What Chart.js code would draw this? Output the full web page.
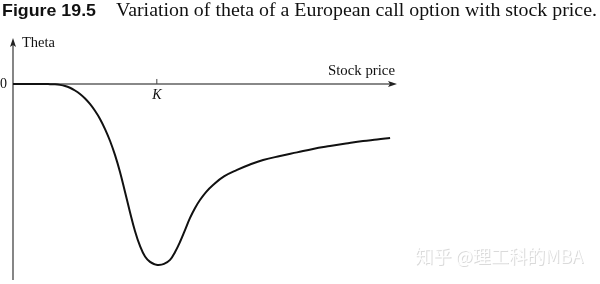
<!DOCTYPE html>
<html>
<head>
<meta charset="utf-8">
<script src="https://cdn.jsdelivr.net/npm/chart.js@4"></script>
<style>
  html, body { margin: 0; padding: 0; background: #fff; }
  #box { width: 600px; height: 284px; }
</style>
</head>
<body>
<div id="box"><canvas id="myChart"></canvas></div>
<script>
// 数据: stock price (K = 100) and theta (scaled so the trough is about -1)
var stockPrice = [0, 11.8, 22.3, 25.7, 29.2, 32.7, 36.2, 39.6, 43.1, 46.6, 50.1, 53.5, 57, 60.5, 64, 67.5, 70.9, 74.4, 77.9, 81.4, 84.8, 88.3, 91.8, 95.3, 98.7, 100.8, 105, 109.2, 112.7, 116.1, 119.6, 123.1, 126.6, 130, 134.2, 139.1, 146.7, 155.8, 164.8, 173.9, 185.7, 197.5, 208.6, 220.4, 231.5, 243.4, 253.1, 262.2];
var theta = [0, 0, 0, -0.001, -0.002, -0.005, -0.011, -0.021, -0.036, -0.055, -0.08, -0.11, -0.148, -0.193, -0.249, -0.315, -0.392, -0.486, -0.597, -0.71, -0.812, -0.895, -0.953, -0.983, -0.997, -1.0, -0.994, -0.972, -0.928, -0.873, -0.807, -0.74, -0.685, -0.641, -0.597, -0.558, -0.511, -0.475, -0.445, -0.42, -0.398, -0.378, -0.359, -0.343, -0.329, -0.315, -0.307, -0.298];
var strikeK = 100;
var tickLabels = ["0", "K"];
var titleBold = "Figure 19.5";
var titleText = "Variation of theta of a European call option with stock price.";
var yLabel = "Theta";
var xLabel = "Stock price";
var watermark = "知乎 @理工科的MBA";

var points = [];
for (var i = 0; i < stockPrice.length; i++) {
    points.push({x: stockPrice[i], y: theta[i]});
}

// 文字拉伸到指定宽度
function fitText(c, text, x, y, width) {
    var w = c.measureText(text).width;
    c.save();
    c.translate(x, y);
    c.scale(width / w, 1);
    c.fillText(text, 0, 0);
    c.restore();
}

// 坐标轴, 箭头, 文字
var axesPlugin = {
    id: 'axesPlugin',
    beforeDatasetsDraw: function (chart) {
        var c = chart.ctx;
        var xs = chart.scales.x, ys = chart.scales.y;
        var x0 = xs.getPixelForValue(0);
        var y0 = ys.getPixelForValue(0);
        var xEnd = xs.right;
        var yTop = ys.top;
        var yBot = ys.bottom;
        c.save();
        // y axis
        c.strokeStyle = '#444';
        c.lineWidth = 1.3;
        c.beginPath();
        c.moveTo(x0, yBot);
        c.lineTo(x0, yTop + 4);
        c.stroke();
        c.fillStyle = '#222';
        c.beginPath();
        c.moveTo(x0, yTop);
        c.lineTo(x0 - 3, yTop + 9);
        c.lineTo(x0, yTop + 7);
        c.lineTo(x0 + 3, yTop + 9);
        c.closePath();
        c.fill();
        // x axis (zero line)
        c.strokeStyle = '#888';
        c.lineWidth = 2;
        c.beginPath();
        c.moveTo(x0, y0);
        c.lineTo(xEnd - 4, y0);
        c.stroke();
        c.fillStyle = '#222';
        c.beginPath();
        c.moveTo(xEnd, y0);
        c.lineTo(xEnd - 9, y0 - 3);
        c.lineTo(xEnd - 7, y0);
        c.lineTo(xEnd - 9, y0 + 3);
        c.closePath();
        c.fill();
        // K tick
        var xk = xs.getPixelForValue(strikeK);
        c.strokeStyle = '#444';
        c.lineWidth = 1;
        c.beginPath();
        c.moveTo(xk, y0 - 5);
        c.lineTo(xk, y0);
        c.stroke();

        c.fillStyle = '#111';
        c.font = '14px "Liberation Serif"';
        c.textBaseline = 'middle';
        c.textAlign = 'right';
        c.fillText(tickLabels[0], x0 - 6, y0);
        c.textAlign = 'center';
        c.font = 'italic 14px "Liberation Serif"';
        c.fillText(tickLabels[1], xk, y0 + 11);
        c.textBaseline = 'alphabetic';
        c.textAlign = 'left';
        c.font = '14px "Liberation Serif"';
        fitText(c, yLabel, 22, 47, 33);
        c.font = '14.5px "Liberation Serif"';
        fitText(c, xLabel, 328, 75, 67);

        // title
        c.font = 'bold 17px "Liberation Sans"';
        fitText(c, titleBold, 2, 16, 94);
        c.font = '19.5px "Liberation Serif"';
        fitText(c, titleText, 116, 16, 481);

        // watermark
        c.font = '18px "Noto Sans CJK SC"';
        c.fillStyle = 'rgba(150,150,150,0.35)';
        fitText(c, watermark, 416, 264, 168);
        c.fillStyle = 'rgba(255,255,255,0.9)';
        fitText(c, watermark, 415, 263, 168);
        c.restore();
    }
};

var ctx = document.getElementById("myChart").getContext("2d");
var myLineChart = new Chart(ctx, {
    type: 'line',
    data: {
        datasets: [{
            data: points,
            borderColor: '#111',
            borderWidth: 2,
            pointRadius: 0,
            fill: false,
            tension: 0.4
        }]
    },
    options: {
        responsive: true,
        maintainAspectRatio: false,
        animation: false,
        layout: {padding: {left: 13, right: 203, top: 38, bottom: 4}},
        plugins: {legend: {display: false}, tooltip: {enabled: false}},
        scales: {
            x: {type: 'linear', min: 0, max: 267, display: false},
            y: {min: -1.083, max: 0.254, display: false}
        }
    },
    plugins: [axesPlugin]
});
</script>
</body>
</html>
